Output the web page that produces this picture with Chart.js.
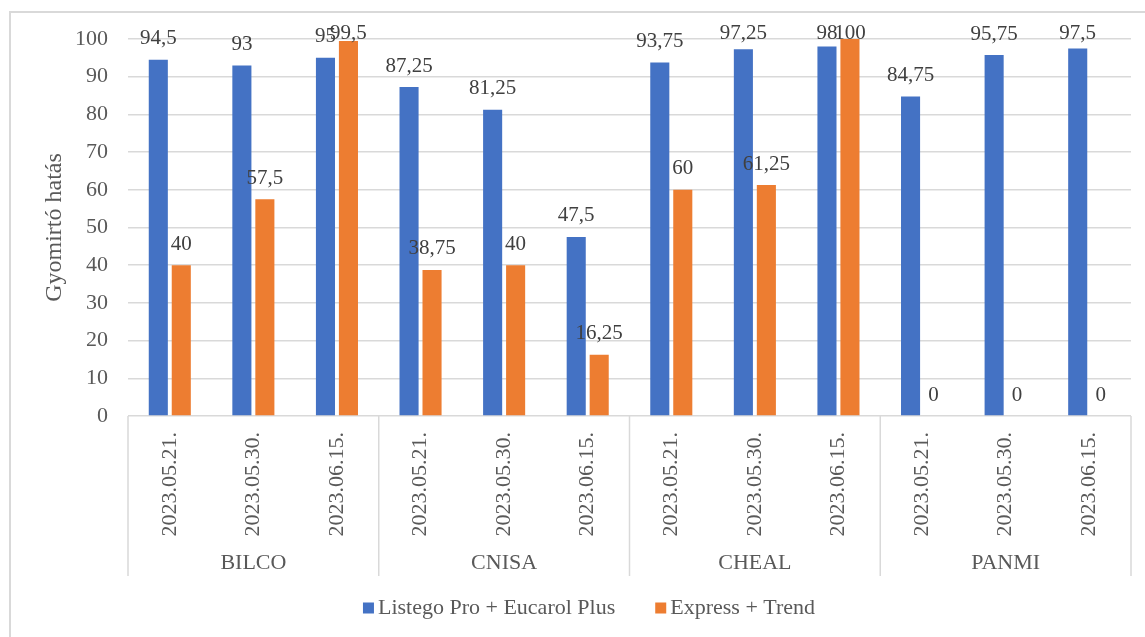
<!DOCTYPE html>
<html>
<head>
<meta charset="utf-8">
<script src="https://cdn.jsdelivr.net/npm/chart.js@4/dist/chart.umd.min.js"></script>
<style>
  html, body { margin: 0; padding: 0; background: #fff; }
  canvas { display: block; }
</style>
</head>
<body>
<canvas id="chart" width="1145" height="637"></canvas>
<script>
// ── Data ───────────────────────────────────────────────────────
const groups = ['BILCO', 'CNISA', 'CHEAL', 'PANMI'];
const dates = ['2023.05.21.', '2023.05.30.', '2023.06.15.'];
const labels = groups.flatMap(() => dates);

const listegoLabel = 'Listego Pro + Eucarol Plus';
const expressLabel = 'Express + Trend';
const listego = [94.5, 93, 95, 87.25, 81.25, 47.5, 93.75, 97.25, 98, 84.75, 95.75, 97.5];
const express = [40, 57.5, 99.5, 38.75, 40, 16.25, 60, 61.25, 100, 0, 0, 0];

const yTicks = [0, 10, 20, 30, 40, 50, 60, 70, 80, 90, 100];

// ── Style ──────────────────────────────────────────────────────
const FONT = 'Liberation Serif';
const TEXT = '#595959';
const LABEL = '#404040';
const GRID = '#d9d9d9';

Chart.defaults.font.family = FONT;
Chart.defaults.font.size = 22;
Chart.defaults.color = TEXT;

const fmt = v => String(v).replace('.', ',');

// ── Plugins ────────────────────────────────────────────────────
const frame = {
  id: 'frame',
  beforeDraw(chart) {
    const c = chart.ctx;
    c.save();
    c.fillStyle = '#fff';
    c.fillRect(0, 0, chart.width, chart.height);
    c.strokeStyle = GRID;
    c.lineWidth = 2;
    c.strokeRect(10, 12, chart.width, chart.height);
    c.restore();
  }
};

const valueLabels = {
  id: 'valueLabels',
  afterDatasetsDraw(chart) {
    const c = chart.ctx;
    c.save();
    c.font = `21px "${FONT}"`;
    c.fillStyle = LABEL;
    c.textAlign = 'center';
    c.textBaseline = 'middle';
    chart.data.datasets.forEach((ds, i) => {
      chart.getDatasetMeta(i).data.forEach((bar, j) => {
        const y = Math.max(bar.y - 21, 33);
        c.fillText(fmt(ds.data[j]), bar.x, y);
      });
    });
    c.restore();
  }
};

const groupAxis = {
  id: 'groupAxis',
  afterDraw(chart) {
    const c = chart.ctx;
    const x = chart.scales.x;
    const area = chart.chartArea;
    const step = x.getPixelForValue(1) - x.getPixelForValue(0);
    c.save();
    c.strokeStyle = GRID;
    c.lineWidth = 1.5;
    // separators between groups
    for (let g = 0; g <= groups.length; g++) {
      const px = x.getPixelForValue(g * dates.length) - step / 2;
      c.beginPath();
      c.moveTo(px, area.bottom);
      c.lineTo(px, area.bottom + 160);
      c.stroke();
    }
    // group names
    c.font = `22px "${FONT}"`;
    c.fillStyle = TEXT;
    c.textAlign = 'center';
    c.textBaseline = 'middle';
    groups.forEach((name, g) => {
      const px = x.getPixelForValue(g * dates.length + 1);
      c.fillText(name, px, area.bottom + 147);
    });

    // legend
    const items = chart.data.datasets.map(ds => ({ text: ds.label, color: ds.backgroundColor }));
    const box = 11, boxGap = 4, itemGap = 40;
    const widths = items.map(it => box + boxGap + c.measureText(it.text).width);
    const total = widths.reduce((a, b) => a + b, 0) + itemGap * (items.length - 1);
    let lx = 589 - total / 2;
    const ly = 608;
    c.textAlign = 'left';
    items.forEach((it, k) => {
      c.fillStyle = it.color;
      c.fillRect(lx, ly - box / 2, box, box);
      c.fillStyle = TEXT;
      c.fillText(it.text, lx + box + boxGap, ly);
      lx += widths[k] + itemGap;
    });
    c.restore();
  }
};

// ── Chart ──────────────────────────────────────────────────────
new Chart(document.getElementById('chart'), {
  type: 'bar',
  data: {
    labels,
    datasets: [
      { label: listegoLabel, data: listego, backgroundColor: '#4472C4',
        categoryPercentage: 0.55, barPercentage: 0.83 },
      { label: expressLabel, data: express, backgroundColor: '#ED7D31',
        categoryPercentage: 0.55, barPercentage: 0.83 },
    ],
  },
  options: {
    responsive: false,
    animation: false,
    devicePixelRatio: 1,
    layout: { padding: { top: 39, left: 10, right: 14, bottom: 0 } },
    plugins: {
      legend: { display: false },
      tooltip: { enabled: false },
    },
    scales: {
      x: {
        grid: { display: false, drawTicks: false },
        border: { display: false },
        ticks: { autoSkip: false, minRotation: 90, maxRotation: 90, padding: 16, color: TEXT },
        afterFit: s => { s.height = 221; },
      },
      y: {
        min: 0,
        max: 100,
        afterBuildTicks: s => { s.ticks = yTicks.map(v => ({ value: v })); },
        grid: { color: GRID, lineWidth: 1.5, drawTicks: false },
        border: { display: false },
        ticks: { padding: 20, color: TEXT },
        title: { display: true, text: 'Gyomirtó hatás', color: TEXT, font: { size: 24 },
                 padding: { top: 30, bottom: 0 } },
        afterFit: s => { s.width = 118; },
      },
    },
  },
  plugins: [frame, valueLabels, groupAxis],
});
</script>
</body>
</html>
